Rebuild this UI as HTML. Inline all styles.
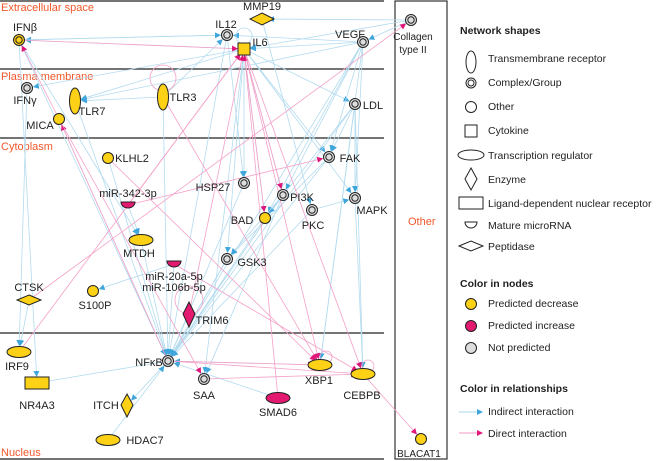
<!DOCTYPE html>
<html><head><meta charset="utf-8"><style>
html,body{margin:0;padding:0;background:#fff;width:662px;height:461px;overflow:hidden}
svg text{font-family:"Liberation Sans",sans-serif}
</style></head><body>
<svg id="s" width="662" height="461" viewBox="0 0 662 461" xmlns="http://www.w3.org/2000/svg">
<defs>
<marker id="ab" markerWidth="6" markerHeight="6" refX="5" refY="3" orient="auto" markerUnits="userSpaceOnUse"><path d="M0,0L6,3L0,6z" fill="#3fa6dc"/></marker>
<marker id="ap" markerWidth="6" markerHeight="6" refX="5" refY="3" orient="auto" markerUnits="userSpaceOnUse"><path d="M0,0L6,3L0,6z" fill="#e0177a"/></marker>
</defs>
<g stroke="#222" stroke-width="1.3">
<line x1="0" y1="1" x2="384" y2="1"/>
<line x1="0" y1="69" x2="384" y2="69"/>
<line x1="0" y1="138" x2="384" y2="138"/>
<line x1="0" y1="333" x2="384" y2="333"/>
<line x1="0" y1="459" x2="384" y2="459"/>
</g>
<rect x="395" y="1" width="52" height="458" fill="none" stroke="#333" stroke-width="1.2"/>
<g fill="#f0582a" font-size="11">
<text x="1" y="11">Extracellular space</text>
<text x="1" y="80">Plasma membrane</text>
<text x="1" y="150">Cytoplasm</text>
<text x="1" y="456">Nucleus</text>
<text x="408" y="225">Other</text>
</g>
<g id="edges" fill="none" stroke-width="0.8"></g>
<g id="nodes" stroke="#222" stroke-width="1"></g>
<g id="labels" font-size="11" fill="#222"></g>
<!-- legend -->
<g font-size="10.5" fill="#222">
<text x="460" y="34" font-weight="bold">Network shapes</text>
<ellipse cx="471" cy="62" rx="5" ry="11" fill="#fff" stroke="#222"/><text x="488" y="62">Transmembrane receptor</text>
<circle cx="471" cy="83" r="5" fill="#fff" stroke="#222"/><circle cx="471" cy="83" r="3" fill="none" stroke="#222"/><text x="488" y="86">Complex/Group</text>
<circle cx="471" cy="107" r="5.5" fill="#fff" stroke="#222"/><text x="488" y="110">Other</text>
<rect x="465" y="125" width="12" height="12" fill="#fff" stroke="#222"/><text x="488" y="134">Cytokine</text>
<ellipse cx="471" cy="155" rx="13" ry="5" fill="#fff" stroke="#222"/><text x="488" y="159">Transcription regulator</text>
<path d="M471,168L477,179L471,190L465,179z" fill="#fff" stroke="#222"/><text x="488" y="183">Enzyme</text>
<rect x="459" y="197" width="24" height="12" fill="#fff" stroke="#222"/><text x="488" y="207">Ligand-dependent nuclear receptor</text>
<path d="M465,222h12a6,6 0 0 1 -12,0z" fill="#fff" stroke="#222"/><text x="488" y="229">Mature microRNA</text>
<path d="M459,246L471,241L483,246L471,251z" fill="#fff" stroke="#222"/><text x="488" y="250">Peptidase</text>
<text x="460" y="287" font-weight="bold">Color in nodes</text>
<circle cx="471" cy="304" r="5.5" fill="#fcd116" stroke="#222"/><text x="488" y="307">Predicted decrease</text>
<circle cx="471" cy="326" r="5.5" fill="#e31a6f" stroke="#222"/><text x="488" y="329">Predicted increase</text>
<circle cx="471" cy="348" r="5.5" fill="#ddd" stroke="#222"/><text x="488" y="351">Not predicted</text>
<text x="460" y="392" font-weight="bold">Color in relationships</text>
<line x1="459" y1="412" x2="482" y2="412" stroke="#a9d6ee" marker-end="url(#ab)"/><text x="488" y="415">Indirect interaction</text>
<line x1="459" y1="433" x2="482" y2="433" stroke="#f39ac5" marker-end="url(#ap)"/><text x="488" y="437">Direct interaction</text>
</g>
</svg>
<script>
var N={IFNb:[19,40],IL12:[227,35],IL6:[244,49],MMP19:[262,19],VEGF:[363,42],COL:[411,20],IFNg:[27,88],TLR7:[75,101],TLR3:[163,97],MICA:[59,119],LDL:[355,104],KLHL2:[108,158],FAK:[329,157],HSP27:[244,183],PI3K:[283,195],MIR342:[128,205],MAPK:[355,198],PKC:[312,210],BAD:[265,218],MTDH:[141,240],GSK3:[227,259],MIR20:[174,264],CTSK:[29,300],S100P:[93,291],TRIM6:[189,314],IRF9:[19,352],NFKB:[168,361],SAA:[204,379],XBP1:[320,365],CEBPB:[363,374],NR4A3:[37,383],ITCH:[127,405],SMAD6:[278,398],HDAC7:[108,440],BLACAT1:[421,439]};
var blue=[["IL6","IFNb"],["IL12","IFNb"],["VEGF","IL6"],["VEGF","IL12"],["COL","MMP19"],["COL","VEGF"],["COL","IL6"],["IL6","IFNg"],["IL6","TLR7"],["TLR3","TLR7"],["VEGF","TLR7"],["IL6","LDL"],["IFNb","NFKB"],["IFNb","NR4A3"],["IFNg","IRF9"],["TLR7","NFKB"],["TLR3","NFKB"],["IL6","FAK"],["IL6","PI3K"],["IL6","HSP27"],["VEGF","FAK"],["VEGF","PI3K"],["VEGF","MAPK"],["VEGF","BAD"],["VEGF","NFKB"],["LDL","FAK"],["LDL","MAPK"],["LDL","BAD"],["LDL","NFKB"],["LDL","XBP1"],["FAK","NFKB"],["PI3K","NFKB"],["PI3K","BAD"],["PKC","MAPK"],["PKC","NFKB"],["BAD","NFKB"],["GSK3","NFKB"],["HSP27","NFKB"],["MIR342","MTDH"],["MIR20","S100P"],["MIR20","NFKB"],["TRIM6","NFKB"],["NFKB","NR4A3"],["NFKB","ITCH"],["HDAC7","NFKB"],["SMAD6","NFKB"],["XBP1","NFKB"],["PI3K","SAA"],["IL6","SAA"],["IL12","NFKB"],["CTSK","IRF9"],["MICA","NFKB"],["KLHL2","NFKB"],["MMP19","PKC"],["IL6","GSK3"],["FAK","GSK3"],["MAPK","CEBPB"],["LDL","CEBPB"],["VEGF","XBP1"],["IL12","HSP27"],["IFNb","MTDH"],["MTDH","NFKB"],["IL6","MAPK"],["TLR3","IL12"],["IFNb","IL12"],["GSK3","NFKB"],["PI3K","GSK3"],["IL6","BAD"]];
var pink=[["MICA","IFNb"],["NFKB","MICA"],["KLHL2","XBP1"],["MIR342","IL6"],["IRF9","IL6"],["IL6","XBP1"],["IL6","CEBPB"],["IL6","BAD"],["SMAD6","IL6"],["TRIM6","IL6"],["NFKB","XBP1"],["NFKB","CEBPB"],["SAA","CEBPB"],["CEBPB","BLACAT1"],["CTSK","COL"],["MICA","SAA"],["MIR342","FAK"],["TLR3","XBP1"],["MIR20","CEBPB"],["IL6","PI3K"],["IFNb","IL6"]];
var E=document.getElementById("edges"),ns="http://www.w3.org/2000/svg";
function ln(a,b,c,m){var p=N[a],q=N[b],dx=q[0]-p[0],dy=q[1]-p[1],d=Math.hypot(dx,dy),r=7;var l=document.createElementNS(ns,"line");l.setAttribute("x1",p[0]);l.setAttribute("y1",p[1]);l.setAttribute("x2",q[0]-dx/d*r);l.setAttribute("y2",q[1]-dy/d*r);l.setAttribute("stroke",c);l.setAttribute("marker-end","url(#"+m+")");E.appendChild(l);}
blue.forEach(function(e){ln(e[0],e[1],"#b3dbef","ab")});
pink.forEach(function(e){ln(e[0],e[1],"#f4a0c8","ap")});
// self loops
E.insertAdjacentHTML("beforeend",'<circle cx="163" cy="78" r="13" stroke="#f4a0c8"/><circle cx="244" cy="36" r="8" stroke="#b3dbef"/><circle cx="326" cy="357" r="6" stroke="#f4a0c8"/><circle cx="368" cy="366" r="6" stroke="#f4a0c8"/><circle cx="189" cy="300" r="14" stroke="#f4a0c8"/>');
var Y="#fcd116",P="#e31a6f",G="#ddd",h="";
function cx(k){var p=N[k];return '<circle cx="'+p[0]+'" cy="'+p[1]+'" r="5.5" fill="'+G+'"/><circle cx="'+p[0]+'" cy="'+p[1]+'" r="3.2" fill="'+G+'"/>';}
["IL12","VEGF","COL","IFNg","LDL","FAK","HSP27","PI3K","MAPK","PKC","GSK3","NFKB","SAA"].forEach(function(k){h+=cx(k)});
h+='<circle cx="19" cy="40" r="5.5" fill="'+Y+'"/><circle cx="19" cy="40" r="3.2" fill="'+Y+'"/>';
h+='<rect x="238" y="43" width="12" height="12" fill="'+Y+'"/>';
h+='<path d="M262,13L274,19L262,25L250,19z" fill="'+Y+'"/>';
h+='<ellipse cx="75" cy="101" rx="5.5" ry="13" fill="'+Y+'"/><ellipse cx="163" cy="97" rx="5.5" ry="13" fill="'+Y+'"/>';
[["MICA"],["KLHL2"],["BAD"],["S100P"],["BLACAT1"]].forEach(function(k){var p=N[k[0]];h+='<circle cx="'+p[0]+'" cy="'+p[1]+'" r="5.5" fill="'+Y+'"/>'});
h+='<path d="M121,202h14a7,6 0 0 1 -14,0z" fill="'+P+'"/><path d="M167,261h14a7,6 0 0 1 -14,0z" fill="'+P+'"/>';
h+='<ellipse cx="141" cy="240" rx="12" ry="5.5" fill="'+Y+'"/>';
h+='<path d="M29,295L41,300L29,305L17,300z" fill="'+Y+'"/>';
h+='<path d="M189,302L195,314L189,327L183,314z" fill="'+P+'"/>';
h+='<ellipse cx="19" cy="352" rx="12" ry="5.5" fill="'+Y+'"/><ellipse cx="320" cy="365" rx="12" ry="5.5" fill="'+Y+'"/><ellipse cx="363" cy="374" rx="12" ry="5.5" fill="'+Y+'"/>';
h+='<rect x="25" y="377" width="24" height="12" fill="'+Y+'"/>';
h+='<path d="M127,394L133,405L127,417L121,405z" fill="'+Y+'"/>';
h+='<ellipse cx="278" cy="398" rx="12" ry="5.5" fill="'+P+'"/><ellipse cx="108" cy="440" rx="12" ry="5.5" fill="'+Y+'"/>';
document.getElementById("nodes").innerHTML=h;
var L=[["IFNβ",25,31],["IL12",226,28],["IL6",260,46],["MMP19",262,10],["VEGF",350,38],["Collagen",413,40],["type II",413,53],["IFNγ",25,104],["TLR7",92,115],["TLR3",183,101],["MICA",40,129],["LDL",373,109],["KLHL2",132,162],["FAK",350,162],["HSP27",213,191],["PI3K",302,201],["miR-342-3p",128,197],["MAPK",372,214],["PKC",313,229],["BAD",242,224],["MTDH",139,257],["GSK3",252,266],["miR-20a-5p",174,280],["miR-106b-5p",174,291],["CTSK",29,291],["S100P",95,309],["TRIM6",212,324],["IRF9",17,370],["NFκB",149,366],["SAA",204,399],["XBP1",319,384],["CEBPB",362,399],["NR4A3",37,409],["ITCH",106,409],["SMAD6",278,416],["HDAC7",145,444],["BLACAT1",419,457]];
var t="";L.forEach(function(a){t+='<text x="'+a[1]+'" y="'+a[2]+'" text-anchor="middle"'+(a[0]=="Collagen"||a[0]=="type II"||a[0]=="BLACAT1"?' font-size="10"':'')+'>'+a[0]+'</text>'});
document.getElementById("labels").innerHTML=t;
</script>
</body></html>
